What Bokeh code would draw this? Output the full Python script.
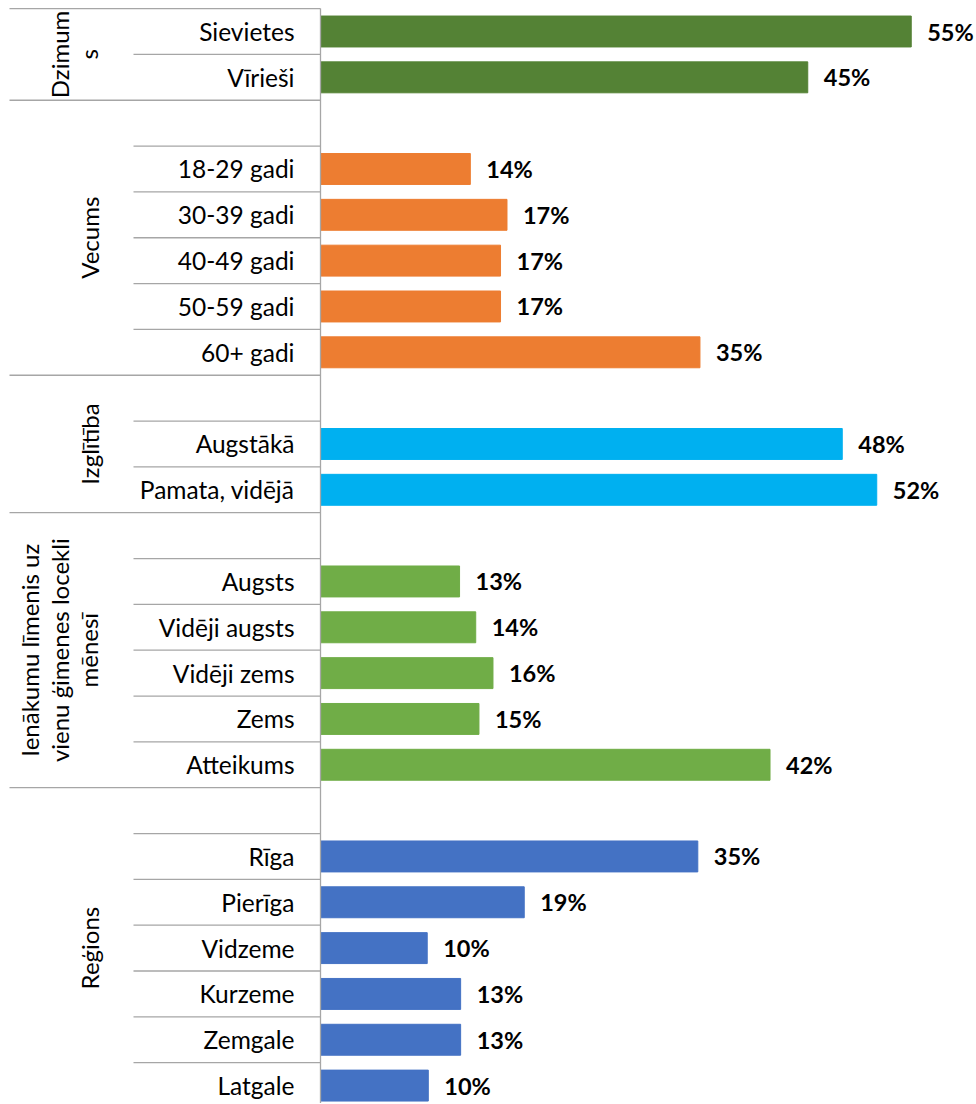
import math
from bokeh.plotting import figure
from bokeh.models import Range1d, ColumnDataSource
from bokeh.core.properties import value
from bokeh.embed import file_html
from bokeh.resources import INLINE

# ---------------- data ----------------
group_names = ["Dzimums", "Vecums", "Izglītība",
               "Ienākumu līmenis uz vienu ģimenes locekli mēnesī", "Reģions"]
group_labels = ["Dzimum\ns", "Vecums", "Izglītība",
                "Ienākumu līmenis uz\nvienu ģimenes locekli\nmēnesī", "Reģions"]

dzimums_cats = ["Sievietes", "Vīrieši"]
dzimums_vals = [54.8, 45.2]

vecums_cats = ["18-29 gadi", "30-39 gadi", "40-49 gadi", "50-59 gadi", "60+ gadi"]
vecums_vals = [13.9, 17.3, 16.7, 16.7, 35.2]

izglitiba_cats = ["Augstākā", "Pamata, vidējā"]
izglitiba_vals = [48.4, 51.6]

ienakumi_cats = ["Augsts", "Vidēji augsts", "Vidēji zems", "Zems", "Atteikums"]
ienakumi_vals = [12.9, 14.4, 16.0, 14.7, 41.7]

regioni_cats = ["Rīga", "Pierīga", "Vidzeme", "Kurzeme", "Zemgale", "Latgale"]
regioni_vals = [35.0, 18.9, 9.9, 13.0, 13.0, 10.0]

group_colors = ["#548235", "#ED7D31", "#00B0F0", "#70AD47", "#4472C4"]

all_cats = [dzimums_cats, vecums_cats, izglitiba_cats, ienakumi_cats, regioni_cats]
all_vals = [dzimums_vals, vecums_vals, izglitiba_vals, ienakumi_vals, regioni_vals]

# ---------------- layout constants (pixels) ----------------
ORIG = 1            # where the figure appears on the picture
W, H = 975, 1103
PX = 10.78          # pixels per percent
RH = 45.83          # pixels per row
AXIS_PX = 321 - ORIG
ROW0_PX = 32 - ORIG

X0 = -AXIS_PX / PX
X1 = X0 + W / PX
R_TOP = -ROW0_PX / RH
R_BOT = R_TOP + H / RH

def px_to_x(px):            # picture pixel -> data x
    return (px - 321) / PX

# ---------------- build rows ----------------
rows, cats, vals, cols, labels = [], [], [], [], []
group_bounds = []
r = 0
for gi, (cs, vs) in enumerate(zip(all_cats, all_vals)):
    start = r
    if gi > 0:
        r += 1       # blank row at top of group
    for c, v in zip(cs, vs):
        rows.append(r); cats.append(c); vals.append(v)
        cols.append(group_colors[gi]); labels.append(f"{v:.0f}%")
        r += 1
    group_bounds.append((start, r - 1))

src = ColumnDataSource(dict(y=rows, cat=cats, v=vals, color=cols, lab=labels))

p = figure(width=W, height=H, x_range=Range1d(X0, X1), y_range=Range1d(R_BOT, R_TOP),
           output_backend="svg", toolbar_location=None, min_border=0,
           x_axis_type=None, y_axis_type=None)
p.outline_line_color = None
p.background_fill_color = "white"
p.border_fill_color = "white"

p.hbar(y="y", left=0, right="v", height=0.675, color="color", source=src)

LINE = "#A6A6A6"
gx0, gy0, gx1, gy1 = [], [], [], []
ix0, iy0, ix1, iy1 = [], [], [], []
for (a, b) in group_bounds:
    gx0 += [px_to_x(10)]; gx1 += [0]; gy0 += [a - 0.5]; gy1 += [a - 0.5]
    for k in range(a, b):
        ix0.append(px_to_x(134)); ix1.append(0); iy0.append(k + 0.5); iy1.append(k + 0.5)
last = group_bounds[-1][1]
gx0 += [px_to_x(10)]; gx1 += [0]; gy0 += [last + 0.5]; gy1 += [last + 0.5]
p.segment(x0=gx0, y0=gy0, x1=gx1, y1=gy1, line_color=LINE, line_width=1.3)
p.segment(x0=ix0, y0=iy0, x1=ix1, y1=iy1, line_color=LINE, line_width=1.3)
p.segment(x0=[0], y0=[-0.5], x1=[0], y1=[R_BOT], line_color=LINE, line_width=1.3)

FONT = value("Lato")
p.text(x=0, y="y", text="cat", source=src, x_offset=-26, text_align="right",
       text_baseline="middle", text_font=FONT, text_font_size="24.5px", text_color="#000000")
p.text(x="v", y="y", text="lab", source=src, x_offset=16, text_align="left",
       text_baseline="middle", text_font=FONT, text_font_size="23.5px",
       text_font_style="bold", text_color="#000000")
gcent = [(a + b) / 2 for (a, b) in group_bounds]
p.text(x=[px_to_x(104)] * len(gcent), y=gcent, text=group_labels, angle=math.pi / 2,
       text_align="center", text_baseline="bottom", text_font=FONT,
       text_font_size="24px", text_color="#000000", text_line_height=1.02)

open("out.html", "w").write(file_html(p, INLINE))
